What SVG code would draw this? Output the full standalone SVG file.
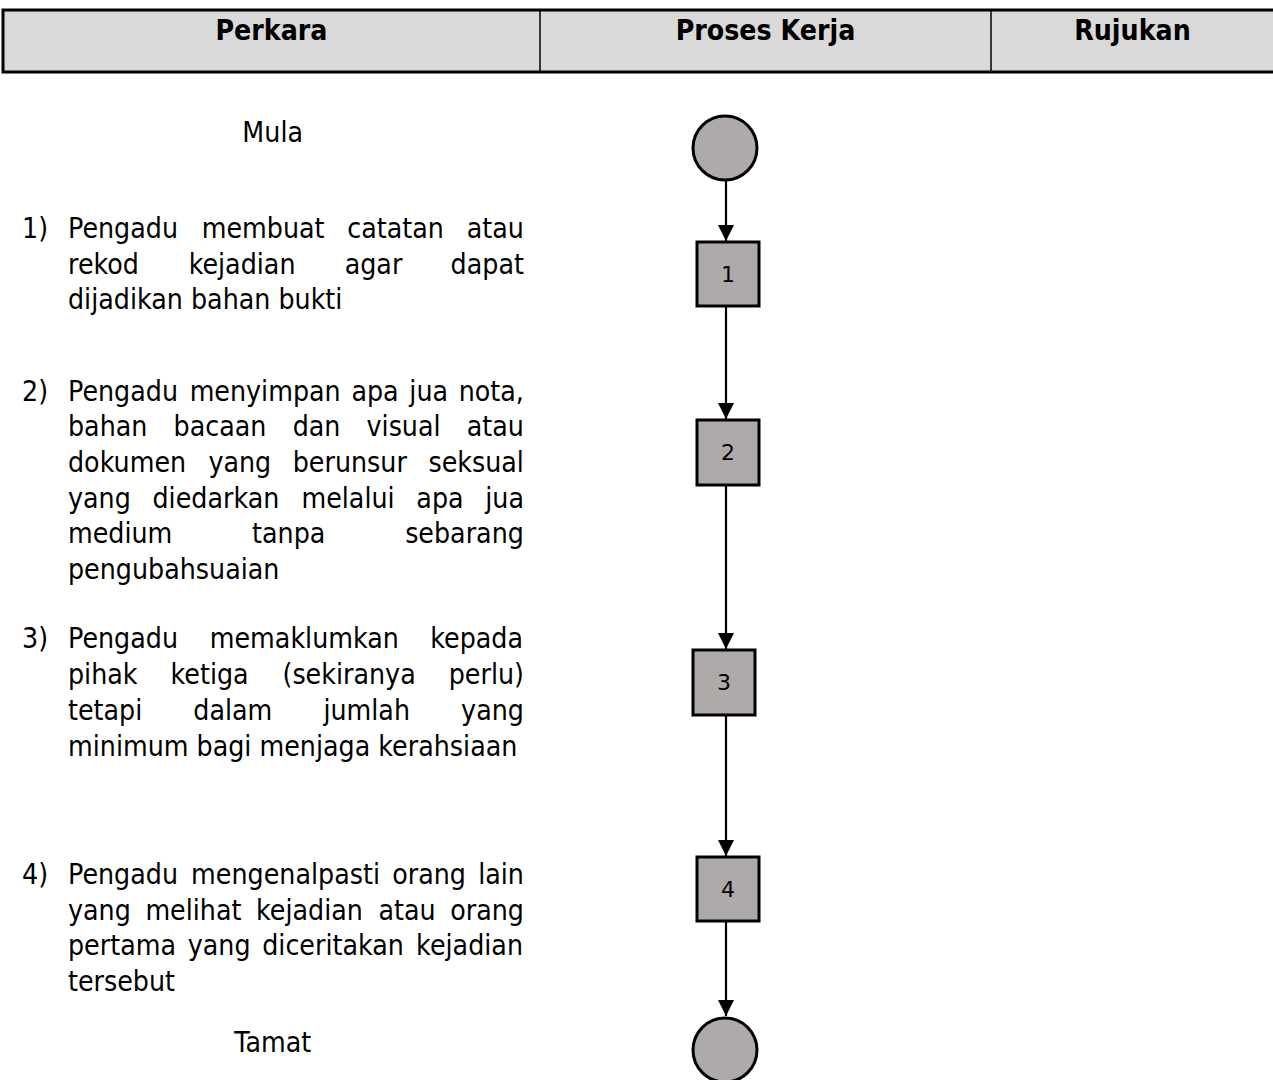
<svg xmlns="http://www.w3.org/2000/svg" width="1273" height="1080" viewBox="0 0 1273 1080">
<style>
.t{font-family:"DejaVu Sans","Verdana",sans-serif;font-size:29px;fill:#000}
.h{font-family:"DejaVu Sans","Verdana",sans-serif;font-size:29px;font-weight:bold;fill:#000;text-anchor:middle}
.c{text-anchor:middle}
.node{fill:#aeaaaa;stroke:#000;stroke-width:3}
.lbl{font-family:"DejaVu Sans",sans-serif;font-size:22px;fill:#000;text-anchor:middle}
.conn{stroke:#000;stroke-width:2.2;fill:none}
</style>
<defs>
<marker id="arr" viewBox="0 0 16 16" refX="16" refY="8" markerWidth="16" markerHeight="16" markerUnits="userSpaceOnUse" orient="auto">
<path d="M0,0 L16,8 L0,16 z" fill="#000"/>
</marker>
</defs>
<rect width="1273" height="1080" fill="#fff"/>
<g id="header">
<rect x="3" y="10" width="1273" height="62" fill="#d9d9d9" stroke="#000" stroke-width="3"/>
<line x1="540" y1="10" x2="540" y2="72" stroke="#000" stroke-width="1.5"/>
<line x1="991" y1="10" x2="991" y2="72" stroke="#000" stroke-width="1.5"/>
<g transform="scale(0.876,1)">
<text class="h" x="309.9" y="40">Perkara</text>
<text class="h" x="873.9" y="40">Proses Kerja</text>
<text class="h" x="1292.8" y="40">Rujukan</text>
</g>
</g>
<g id="text-column" transform="scale(0.876,1)">
<text class="t c" x="311.3" y="142">Mula</text>
<text class="t" y="238"><tspan x="25.1">1)</tspan><tspan x="77.63">Pengadu</tspan><tspan x="230.27">membuat</tspan><tspan x="396.48">catatan</tspan><tspan x="532.82">atau</tspan></text>
<text class="t" y="274"><tspan x="77.63">rekod</tspan><tspan x="215.35">kejadian</tspan><tspan x="393.47">agar</tspan><tspan x="514.37">dapat</tspan></text>
<text class="t" x="77.63" y="309">dijadikan bahan bukti</text>
<text class="t" y="401"><tspan x="25.1">2)</tspan><tspan x="77.63">Pengadu</tspan><tspan x="216.48">menyimpan</tspan><tspan x="401.15">apa</tspan><tspan x="467.27">jua</tspan><tspan x="523.65">nota,</tspan></text>
<text class="t" y="436"><tspan x="77.63">bahan</tspan><tspan x="198.18">bacaan</tspan><tspan x="334.07">dan</tspan><tspan x="418.46">visual</tspan><tspan x="532.83">atau</tspan></text>
<text class="t" y="472"><tspan x="77.63">dokumen</tspan><tspan x="237.94">yang</tspan><tspan x="334.19">berunsur</tspan><tspan x="489.05">seksual</tspan></text>
<text class="t" y="508"><tspan x="77.63">yang</tspan><tspan x="174.07">diedarkan</tspan><tspan x="344.14">melalui</tspan><tspan x="475.26">apa</tspan><tspan x="553.92">jua</tspan></text>
<text class="t" y="543"><tspan x="77.63">medium</tspan><tspan x="287.8">tanpa</tspan><tspan x="462.5">sebarang</tspan></text>
<text class="t" x="77.63" y="579">pengubahsuaian</text>
<text class="t" y="648"><tspan x="25.1">3)</tspan><tspan x="77.63">Pengadu</tspan><tspan x="239.46">memaklumkan</tspan><tspan x="491.13">kepada</tspan></text>
<text class="t" y="684"><tspan x="77.63">pihak</tspan><tspan x="194.65">ketiga</tspan><tspan x="322.49">(sekiranya</tspan><tspan x="512.21">perlu)</tspan></text>
<text class="t" y="720"><tspan x="77.63">tetapi</tspan><tspan x="220.7">dalam</tspan><tspan x="369.22">jumlah</tspan><tspan x="526.38">yang</tspan></text>
<text class="t" x="77.63" y="756">minimum bagi menjaga kerahsiaan</text>
<text class="t" y="884"><tspan x="25.1">4)</tspan><tspan x="77.63">Pengadu</tspan><tspan x="218.19">mengenalpasti</tspan><tspan x="447.72">orang</tspan><tspan x="545.83">lain</tspan></text>
<text class="t" y="920"><tspan x="77.63">yang</tspan><tspan x="165.97">melihat</tspan><tspan x="292.3">kejadian</tspan><tspan x="432">atau</tspan><tspan x="513.9">orang</tspan></text>
<text class="t" y="955"><tspan x="77.63">pertama</tspan><tspan x="214.29">yang</tspan><tspan x="299.36">diceritakan</tspan><tspan x="475.02">kejadian</tspan></text>
<text class="t" x="77.63" y="991">tersebut</text>
<text class="t c" x="311.3" y="1052">Tamat</text>
</g>
<g id="connectors">
<line class="conn" x1="726" y1="181" x2="726" y2="241" marker-end="url(#arr)"/>
<line class="conn" x1="726" y1="307" x2="726" y2="419" marker-end="url(#arr)"/>
<line class="conn" x1="726" y1="486" x2="726" y2="649" marker-end="url(#arr)"/>
<line class="conn" x1="726" y1="716" x2="726" y2="856" marker-end="url(#arr)"/>
<line class="conn" x1="726" y1="922" x2="726" y2="1016" marker-end="url(#arr)"/>
</g>
<g id="start"><circle class="node" cx="725" cy="148" r="32"/></g>
<g id="step1"><rect class="node" x="697" y="242" width="62" height="64"/><text class="lbl" x="728" y="282">1</text></g>
<g id="step2"><rect class="node" x="697" y="420" width="62" height="65"/><text class="lbl" x="728" y="460">2</text></g>
<g id="step3"><rect class="node" x="693" y="650" width="62" height="65"/><text class="lbl" x="724" y="690">3</text></g>
<g id="step4"><rect class="node" x="697" y="857" width="62" height="64"/><text class="lbl" x="728" y="897">4</text></g>
<g id="end"><circle class="node" cx="725" cy="1050" r="32"/></g>
</svg>
